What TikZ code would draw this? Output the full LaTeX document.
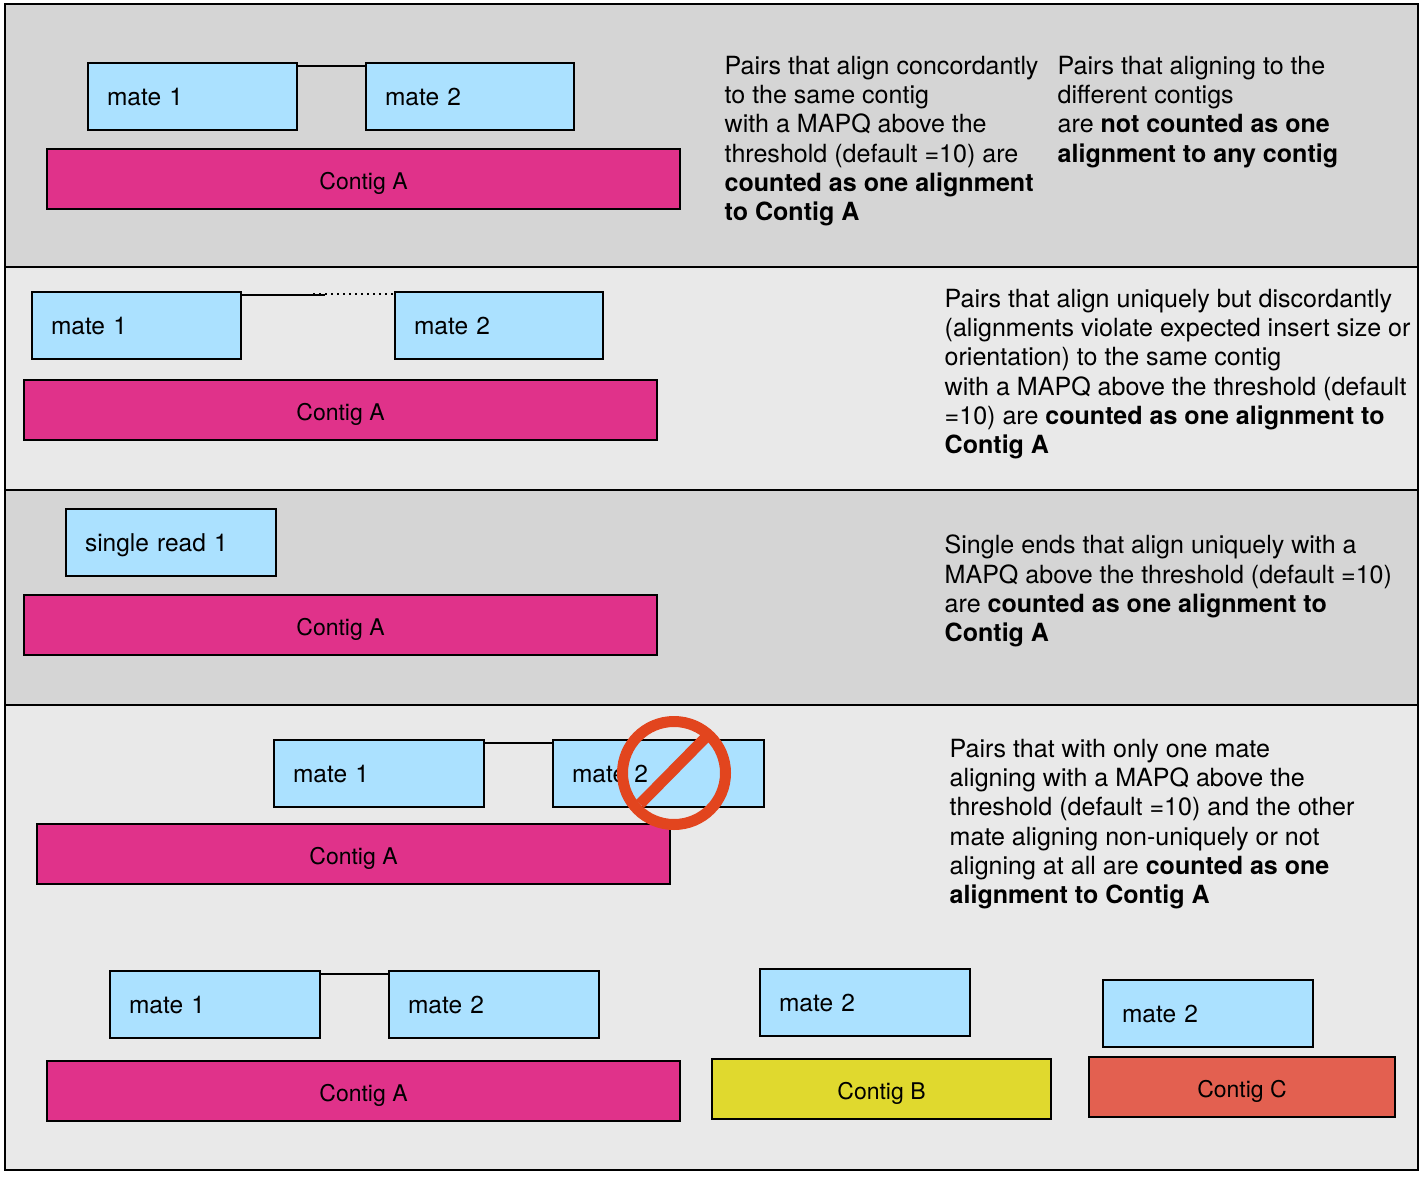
\documentclass[tikz,border=0pt]{standalone}
\usepackage{fontspec}
\setmainfont{TeX Gyre Heros}
\tikzset{every path/.style={line join=miter},
  x=1pt,y=-1pt,
  panel/.style={draw=black,line width=2pt},
  darkpanel/.style={panel,fill=panelDark},
  lightpanel/.style={panel,fill=panelLight},
  readbox/.style={draw=black,line width=2pt,fill=readBlue,anchor=north west,xshift=-1pt,yshift=1pt,inner xsep=19pt,inner ysep=0pt,
    text width=172pt,minimum height=67pt,align=left,text height=20pt,text depth=3pt,font=\fontsize{24.5}{29}\selectfont},
  contigbox/.style={draw=black,line width=2pt,anchor=north west,xshift=-1pt,yshift=1pt,inner sep=0pt,minimum height=60pt,align=center,
    text height=24pt,text depth=4pt,font=\fontsize{23}{28}\selectfont},
  contigA/.style={contigbox,fill=contigPink,minimum width=633pt},
  note/.style={anchor=north west,inner sep=0pt,align=left,font=\fontsize{25.05}{29.2}\selectfont},
  pairline/.style={line width=2pt},
  nosign/.style={draw=noRed,line width=11pt}}
\definecolor{panelDark}{HTML}{D5D5D5}
\definecolor{panelLight}{HTML}{E9E9E9}
\definecolor{readBlue}{HTML}{ABE1FF}
\definecolor{contigPink}{HTML}{E0328A}
\definecolor{contigYellow}{HTML}{E0D92E}
\definecolor{contigRed}{HTML}{E36050}
\definecolor{noRed}{HTML}{E2451E}
\begin{document}
\begin{tikzpicture}
  \useasboundingbox (0,0) rectangle (1427,1176);
  % panels
  \path[darkpanel] (5,4) rectangle (1418,267);
  \path[lightpanel] (5,267) rectangle (1418,490);
  \path[darkpanel] (5,490) rectangle (1418,705);
  \path[lightpanel] (5,705) rectangle (1418,1170);
  % first panel
  \node[readbox,text width=171pt] (m1a) at (88,63) {mate 1};
  \node[readbox,text width=170pt] (m2a) at (366,63) {mate 2};
  \node[contigA] (ca) at (47,149) {Contig A};
  \draw[pairline] ([yshift=-4pt]m1a.north east) -- ([yshift=-4pt]m2a.north west);
  \node[note] (ta) at (724.5,56) {Pairs that align concordantly\\to the same contig\\with a MAPQ above the\\threshold (default =10) are\\\textbf{counted as one alignment}\\\textbf{to Contig A}};
  \node[note] (tb) at (1057.5,56) {Pairs that aligning to the\\different contigs\\are \textbf{not counted as one}\\\textbf{alignment to any contig}};
  % second panel
  \node[readbox,text width=171pt] (m1b) at (32,292) {mate 1};
  \node[readbox,text width=170pt] (m2b) at (395,292) {mate 2};
  \node[contigA] (cb) at (24,380) {Contig A};
  \coordinate (gap) at (325,295);
  \coordinate (dots) at (313,294);
  \draw[pairline] ([yshift=-4pt]m1b.north east) -- (gap);
  \draw[line width=2pt,dash pattern=on 2pt off 4pt] (dots) -- ([xshift=-1pt]dots -| m2b.west);
  \node[note] (tc) at (944.5,289) {Pairs that align uniquely but discordantly\\(alignments violate expected insert size or\\orientation) to the same contig\\with a MAPQ above the threshold (default\\=10) are \textbf{counted as one alignment to}\\\textbf{Contig A}};
  % third panel
  \node[readbox] (s1) at (66,509) {single read 1};
  \node[contigA] (cc) at (24,595) {Contig A};
  \node[note] (td) at (944.5,535) {Single ends that align uniquely with a\\MAPQ above the threshold (default =10)\\are \textbf{counted as one alignment to}\\\textbf{Contig A}};
  % fourth panel
  \node[readbox] (m1c) at (274,740) {mate 1};
  \node[readbox,text width=173pt] (m2c) at (553,740) {mate 2};
  \node[contigA] (cd) at (37,824) {Contig A};
  \draw[pairline] ([yshift=-4pt]m1c.north east) -- ([yshift=-4pt]m2c.north west);
  \coordinate (no) at (674,773);
  \draw[nosign] (no) circle (51.5);
  \draw[nosign] (640,804) -- (706,737);
  \node[note] (te) at (949.5,739) {Pairs that with only one mate\\aligning with a MAPQ above the\\threshold (default =10) and the other\\mate aligning non-uniquely or not\\aligning at all are \textbf{counted as one}\\\textbf{alignment to Contig A}};
  \node[readbox] (m1d) at (110,971) {mate 1};
  \node[readbox] (m2d) at (389,971) {mate 2};
  \node[contigA] (ce) at (47,1061) {Contig A};
  \draw[pairline] ([yshift=-4pt]m1d.north east) -- ([yshift=-4pt]m2d.north west);
  \node[readbox] (m2e) at (760,969) {mate 2};
  \node[contigbox,fill=contigYellow,minimum width=339pt] (cf) at (712,1059) {Contig B};
  \node[readbox] (m2f) at (1103,980) {mate 2};
  \node[contigbox,fill=contigRed,minimum width=306pt] (cg) at (1089,1057) {Contig C};
\end{tikzpicture}
\end{document}
